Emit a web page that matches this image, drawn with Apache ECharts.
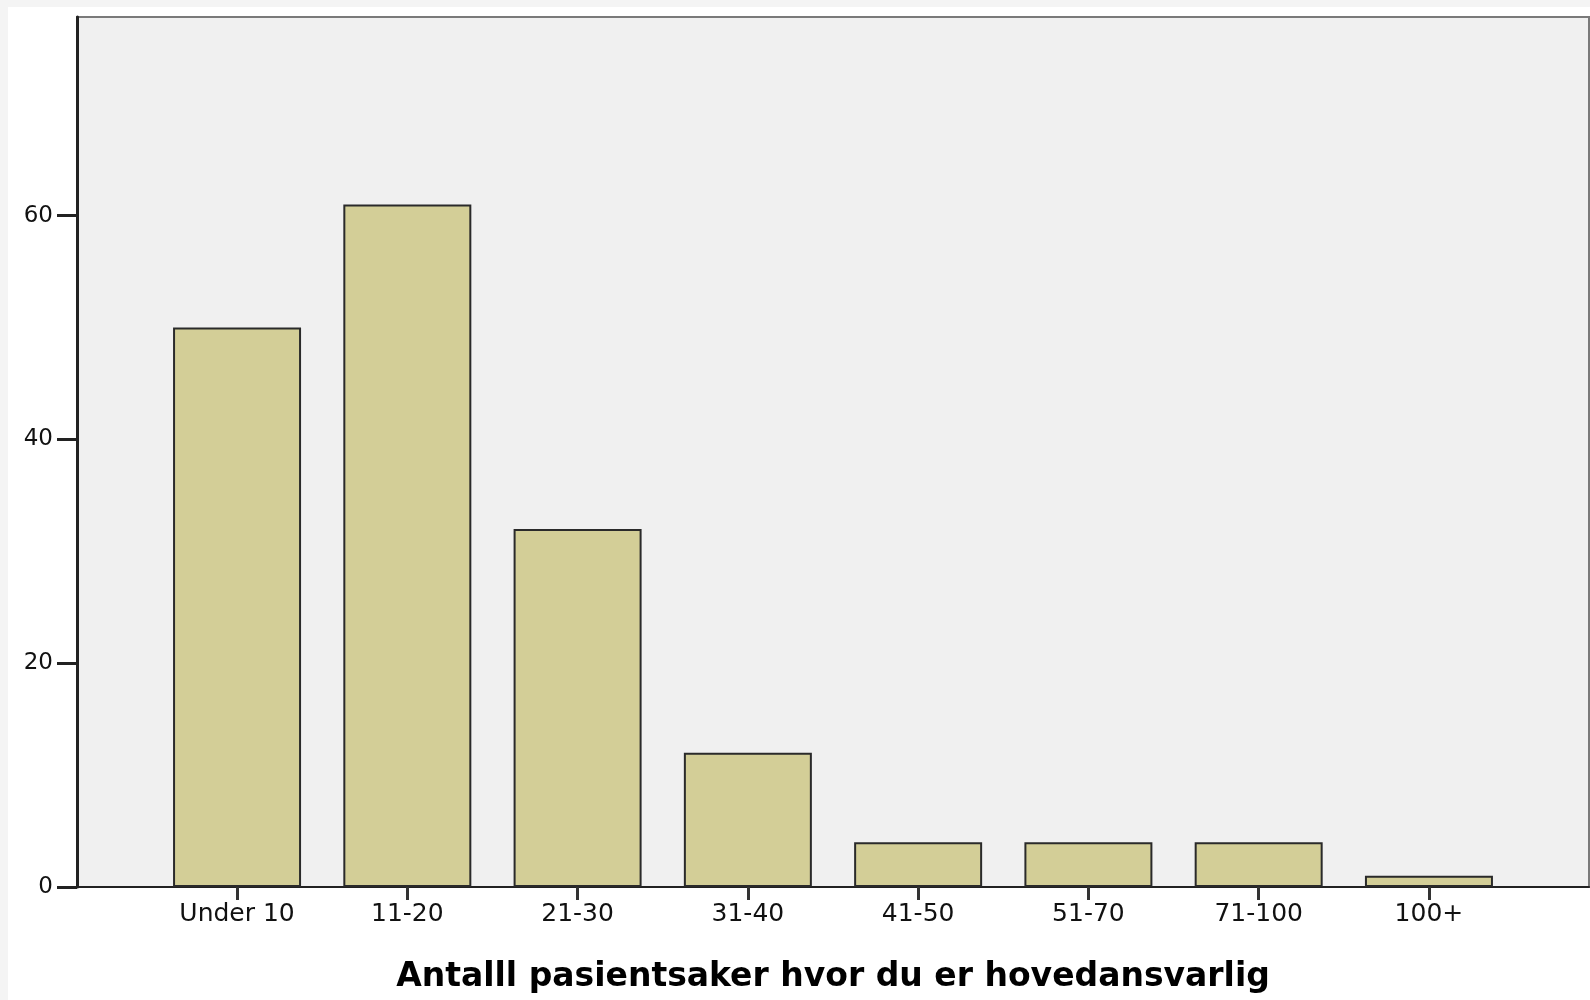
<!DOCTYPE html>
<html>
<head>
<meta charset="utf-8">
<script src="https://cdn.jsdelivr.net/npm/echarts@6/dist/echarts.min.js"></script>
<style>
html,body{margin:0;padding:0;background:#f4f4f4;}
#chart{width:1590px;height:1000px;}
</style>
</head>
<body>
<div id="chart"></div>
<script>
const categories = ['Under 10', '11-20', '21-30', '31-40', '41-50', '51-70', '71-100', '100+'];
const counts = [50, 61, 32, 12, 4, 4, 4, 1];
const yTicks = [0, 20, 40, 60];
const xTitle = 'Antalll pasientsaker hvor du er hovedansvarlig';

const chart = echarts.init(document.getElementById('chart'));
const catIdx = categories.map((c, i) => i);
chart.setOption({
  backgroundColor: '#f4f4f4',
  animation: false,
  graphic: [{
    type: 'rect', z: -10, silent: true,
    shape: { x: 8, y: 7, width: 1590, height: 1000 },
    style: { fill: '#ffffff' }
  }],
  grid: {
    left: 77, top: 17, right: 1, bottom: 113,
    show: true, backgroundColor: '#f0f0f0',
    borderColor: '#7a7a7a', borderWidth: 2
  },
  xAxis: {
    type: 'value', min: -0.94, max: 7.94,
    splitLine: { show: false },
    axisLine: { show: true, onZero: false, lineStyle: { color: '#222', width: 2 } },
    axisTick: { show: true, customValues: catIdx, length: 13, lineStyle: { color: '#333', width: 3 } },
    axisLabel: {
      customValues: catIdx, margin: 15,
      formatter: v => categories[Math.round(v)],
      fontFamily: 'DejaVu Sans', fontSize: 25, color: '#111'
    },
    name: xTitle, nameLocation: 'middle', nameGap: 74,
    nameTextStyle: { fontFamily: 'DejaVu Sans', fontWeight: 'bold', fontSize: 33, color: '#000' }
  },
  yAxis: {
    type: 'value', min: 0, max: 77.75,
    splitLine: { show: false },
    axisLine: { show: true, onZero: false, lineStyle: { color: '#222', width: 3 } },
    axisTick: { show: true, customValues: yTicks, length: 20, lineStyle: { color: '#222', width: 3 } },
    axisLabel: {
      customValues: yTicks, margin: 24,
      fontFamily: 'DejaVu Sans', fontSize: 23, color: '#111'
    }
  },
  series: [{
    type: 'bar',
    data: counts.map((v, i) => [i, v]),
    barWidth: 128,
    itemStyle: { color: '#d3ce97', borderColor: '#2a2a2a', borderWidth: 2 }
  }]
});
</script>
</body>
</html>
